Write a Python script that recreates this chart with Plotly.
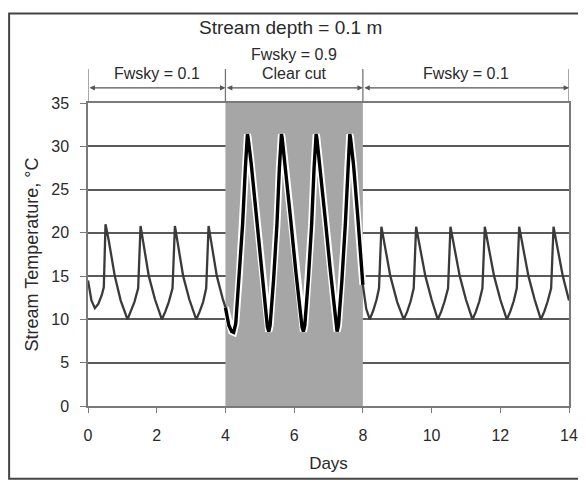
import plotly.graph_objects as go

# ---- data ----
days_open1 = [0.00, 0.10, 0.20, 0.30, 0.40, 0.46, 0.51, 0.60, 0.78, 0.95, 1.15,
              1.25, 1.35, 1.46, 1.53, 1.60, 1.77, 1.95, 2.15,
              2.25, 2.35, 2.46, 2.53, 2.60, 2.77, 2.95, 3.15,
              3.25, 3.35, 3.44, 3.51, 3.58, 3.75, 3.92, 4.00]
temp_open1 = [14.5, 12.2, 11.3, 11.8, 12.8, 13.7, 21.0, 19.2, 15.0, 12.2, 10.0,
              10.9, 12.0, 13.6, 20.8, 19.1, 15.0, 12.3, 10.0,
              10.9, 12.0, 13.6, 20.8, 19.1, 15.0, 12.3, 10.0,
              10.9, 12.0, 13.6, 20.8, 19.1, 15.0, 12.4, 11.4]

days_cut = [4.00, 4.10, 4.18, 4.24, 4.30, 4.40, 4.50, 4.58, 4.62, 4.64, 4.66, 4.75, 4.90, 5.05, 5.15, 5.22, 5.26,
            5.30, 5.40, 5.50, 5.57, 5.61, 5.63, 5.65, 5.75, 5.90, 6.05, 6.15, 6.23, 6.27,
            6.31, 6.41, 6.51, 6.58, 6.62, 6.64, 6.66, 6.75, 6.90, 7.05, 7.14, 7.21, 7.25,
            7.29, 7.39, 7.49, 7.56, 7.60, 7.62, 7.64, 7.73, 7.85, 7.95, 8.00]
temp_cut = [11.4, 9.3, 8.6, 8.5, 9.5, 14.8, 21.0, 27.5, 30.8, 31.4, 31.0, 28.0, 22.0, 16.0, 12.0, 9.2, 8.6,
            9.3, 14.5, 21.0, 27.5, 30.8, 31.4, 31.0, 27.5, 21.5, 15.5, 11.8, 9.1, 8.6,
            9.3, 14.5, 21.0, 27.5, 30.8, 31.4, 31.0, 27.8, 21.8, 15.8, 12.2, 9.3, 8.6,
            9.3, 14.5, 21.0, 27.5, 30.8, 31.4, 31.0, 27.8, 22.0, 16.5, 14.0]

days_open2 = [8.00, 8.10, 8.20, 8.30, 8.40, 8.47, 8.54, 8.62, 8.80, 9.00, 9.19,
              9.29, 9.39, 9.48, 9.55, 9.63, 9.82, 10.00, 10.18,
              10.28, 10.38, 10.48, 10.55, 10.63, 10.82, 11.00, 11.19,
              11.29, 11.39, 11.48, 11.55, 11.63, 11.82, 12.00, 12.19,
              12.29, 12.39, 12.48, 12.55, 12.63, 12.82, 13.00, 13.18,
              13.28, 13.38, 13.48, 13.55, 13.63, 13.82, 14.00]
temp_open2 = [14.0, 11.2, 10.0, 11.0, 12.3, 13.6, 20.7, 19.0, 15.0, 12.0, 10.0,
              10.9, 12.1, 13.6, 20.7, 19.0, 15.0, 12.3, 10.0,
              10.9, 12.1, 13.6, 20.7, 19.0, 15.0, 12.3, 10.0,
              10.9, 12.1, 13.6, 20.7, 19.0, 15.0, 12.3, 10.0,
              10.9, 12.1, 13.6, 20.7, 19.0, 15.0, 12.3, 10.0,
              10.9, 12.1, 13.6, 20.7, 19.0, 15.0, 12.2]

periods = [0, 4, 8, 14]
period_labels = ["Fwsky = 0.1", "Clear cut", "Fwsky = 0.1"]
cut_label_top = "Fwsky = 0.9"
x_ticks = [0, 2, 4, 6, 8, 10, 12, 14]
y_ticks = [0, 5, 10, 15, 20, 25, 30, 35]

FONT = "Arial, Liberation Sans, sans-serif"
TXT = "#2a2a2a"

fig = go.Figure()

fig.add_trace(go.Scatter(x=days_open1, y=temp_open1, mode="lines",
                         line=dict(color="#3a3a3a", width=2.3), hoverinfo="skip"))
fig.add_trace(go.Scatter(x=days_cut, y=temp_cut, mode="lines",
                         line=dict(color="white", width=7), hoverinfo="skip"))
fig.add_trace(go.Scatter(x=days_cut, y=temp_cut, mode="lines",
                         line=dict(color="black", width=3.4), hoverinfo="skip"))
fig.add_trace(go.Scatter(x=days_open2, y=temp_open2, mode="lines",
                         line=dict(color="#3a3a3a", width=2.3), hoverinfo="skip"))

# shaded clear-cut period
fig.add_shape(type="rect", xref="x", yref="y", x0=periods[1], x1=periods[2], y0=0, y1=35,
              fillcolor="#a6a6a6", line=dict(width=0), layer="between")

# period separators above plot
for p in periods:
    fig.add_shape(type="line", xref="x", yref="paper", x0=p, x1=p, y0=1.0, y1=1.112,
                  line=dict(color="#777777", width=1.3))

# double-headed arrows
for a, b in zip(periods[:-1], periods[1:]):
    fig.add_annotation(x=b, y=1.05, ax=a, ay=0, xref="x", yref="paper", axref="x", ayref="pixel",
                       text="", showarrow=True, arrowside="end+start", arrowhead=2,
                       arrowsize=0.9, arrowwidth=1.2, arrowcolor="#555555")

# period labels
for a, b, lab in zip(periods[:-1], periods[1:], period_labels):
    fig.add_annotation(x=(a + b) / 2, y=1.098, xref="x", yref="paper", text=lab,
                       showarrow=False, yanchor="middle",
                       font=dict(family=FONT, size=16, color=TXT))
fig.add_annotation(x=(periods[1] + periods[2]) / 2, y=1.16, xref="x", yref="paper", text=cut_label_top,
                   showarrow=False, yanchor="middle", font=dict(family=FONT, size=16, color=TXT))

# title
fig.add_annotation(x=0.42, y=1.25, xref="paper", yref="paper", text="Stream depth = 0.1 m",
                   showarrow=False, yanchor="middle", font=dict(family=FONT, size=19, color=TXT))

# outer frame
fig.add_shape(type="rect", xref="paper", yref="paper", x0=-0.164, x1=1.025, y0=-0.24, y1=1.295,
              line=dict(color="#444444", width=2), fillcolor="rgba(0,0,0,0)", layer="above")

fig.update_layout(
    width=586, height=483,
    margin=dict(l=80, r=25, t=95, b=85, autoexpand=False),
    paper_bgcolor="white", plot_bgcolor="white",
    showlegend=False,
    font=dict(family=FONT, size=16, color=TXT),
    xaxis=dict(range=[0, 14], tickvals=x_ticks, showgrid=False, zeroline=False, automargin=False,
               showline=True, mirror=True, linecolor="#7a7a7a", linewidth=1.5,
               ticks="outside", ticklen=5, tickcolor="#7a7a7a", ticklabelstandoff=9,
               tickfont=dict(size=16),
               title=dict(text="Days", font=dict(size=17), standoff=14)),
    yaxis=dict(range=[0, 35], tickvals=y_ticks, showgrid=True, gridcolor="#5a5a5a", gridwidth=1.5,
               zeroline=False, showline=True, mirror=True, linecolor="#7a7a7a", linewidth=1.5,
               automargin=False,
               ticks="outside", ticklen=6, tickcolor="#7a7a7a", ticklabelstandoff=8,
               tickfont=dict(size=16),
               title=dict(text="Stream Temperature, °C", font=dict(size=18), standoff=8)),
)

fig.write_html("out.html")
